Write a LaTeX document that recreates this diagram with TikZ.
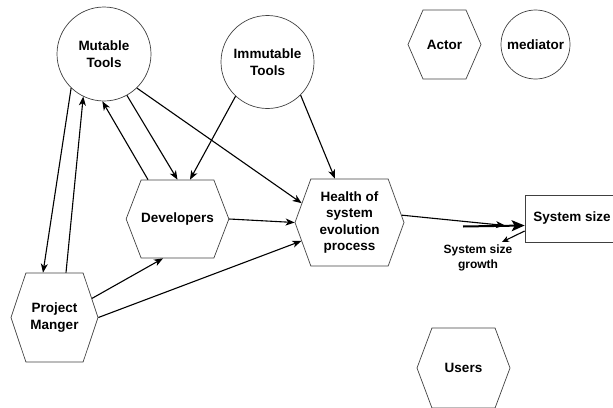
\documentclass[tikz,border=0pt]{standalone}
\usepackage{fontspec}
\setmainfont{Liberation Sans}
\usetikzlibrary{shapes.symbols,arrows.meta}

\begin{document}
\begin{tikzpicture}[x=1pt,y=-1pt,
  actor/.style={signal,signal to=west and east,signal pointer angle=#1,draw=black!75,line width=0.7pt,inner sep=0pt},
  actor/.default=140,
  mediator/.style={circle,draw=black!75,line width=0.7pt,inner sep=0pt},
  arr/.style={-{Stealth[length=9pt,width=7pt,inset=2.5pt]},line width=1.1pt}]
\tikzstyle{every node}=[font=\bfseries\fontsize{13.5}{16.5}\selectfont,align=center]
\useasboundingbox (0,0) rectangle (613,407);

% mediators
\node[mediator,minimum size=94pt] (mut) at (104,54) {Mutable\\Tools};
\node[mediator,minimum size=93pt] (imm) at (267.5,62) {Immutable\\Tools};
\node[mediator,minimum size=69pt] (med) at (535.5,44.5) {mediator};

% actors
\node[actor=138,minimum width=99pt,minimum height=78pt] (dev) at (177.5,219) {Developers};
\node[actor=140,minimum width=109pt,minimum height=87pt] (health) at (349.5,222.5) {Health of\\system\\evolution\\process};
\node[actor=143,minimum width=87pt,minimum height=89pt] (pm) at (54.5,317.5) {Project\\Manger};
\node[actor=133,minimum width=73pt,minimum height=69pt] (actor) at (444.5,44.5) {Actor};
\node[actor=139,minimum width=93pt,minimum height=80pt] (users) at (463.5,368) {Users};

\node[draw=black!75,line width=0.7pt,minimum width=94pt,minimum height=47pt] (size) at (572,218.5) {System size};
\node[font=\bfseries\fontsize{12}{15}\selectfont] (grow) at (478,258) {System size\\growth};

\coordinate (g) at (463,226.5);
\coordinate (h) at (505,225.5);
\coordinate (gend) at (502,242);

% edges
\draw[arr] (mut.226) -- ([xshift=-11.5pt]pm.north);
\draw[arr] ([xshift=11.5pt]pm.north) -- (mut.244);
\draw[arr] ([xshift=-29.5pt]dev.north) -- (mut.268);
\draw[arr] (mut.299) -- (dev.north);
\draw[arr] (mut.314) -- (health.158);
\draw[arr] (imm.227) -- ([xshift=12.5pt]dev.north);
\draw[arr] (imm.315) -- ([xshift=-14.5pt]health.north);
\draw[arr] (dev.east) -- (health.west);
\draw[arr] (pm.27) -- ([xshift=-14.5pt]dev.south);
\draw[arr] (pm.east) -- (health.201);
\draw[arr] (health.8) -- (h);
\draw[-{Stealth[length=13pt,width=11pt,inset=3pt]},line width=2pt] (g) -- ([yshift=-7pt]size.west);
\draw[-{Stealth[length=7pt,width=6pt,inset=2pt]},line width=1.1pt] ([yshift=-12.5pt]size.west) -- (gend);
\end{tikzpicture}
\end{document}
